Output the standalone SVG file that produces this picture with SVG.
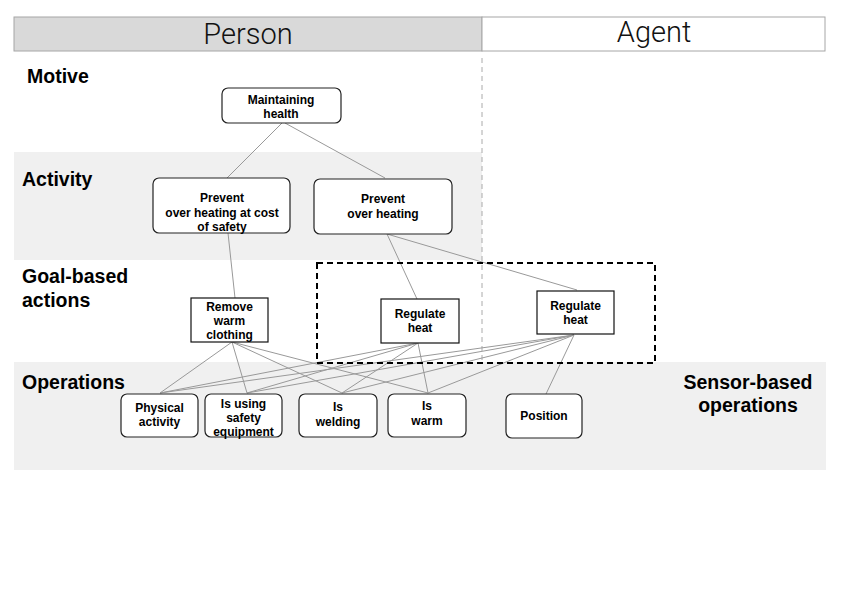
<svg xmlns="http://www.w3.org/2000/svg" width="842" height="595" viewBox="0 0 842 595">
<style>
.hdr{font-family:Roboto,"Liberation Sans",sans-serif;font-weight:300;font-size:29px;fill:#111;text-anchor:middle}
.lbl{font-family:"Liberation Sans",Arial,sans-serif;font-weight:bold;font-size:19.5px;fill:#000}
.nt{font-family:"Liberation Sans",Arial,sans-serif;font-weight:bold;font-size:12px;fill:#000;text-anchor:middle}
.rn{fill:#fff;stroke:#222;stroke-width:1.2}
.sq{fill:#fff;stroke:#111;stroke-width:1.2}
.band{fill:#f0f0f0}
#connectors line{stroke:#999;stroke-width:1;fill:none}
</style>
<rect width="842" height="595" fill="#fff"/>
<g id="background">
<rect class="band" x="14" y="152" width="468" height="108"/>
<rect class="band" x="14" y="362" width="812" height="108"/>
<line x1="482" y1="58" x2="482" y2="362" stroke="#aaa" stroke-width="1" stroke-dasharray="5,4"/>
</g>
<g id="header">
<rect x="14" y="17" width="468" height="34" fill="#d9d9d9" stroke="#a6a6a6" stroke-width="1"/>
<rect x="482" y="17" width="343" height="34" fill="#fff" stroke="#a6a6a6" stroke-width="1"/>
<text class="hdr" x="248" y="44">Person</text>
<text class="hdr" x="654" y="42">Agent</text>
</g>
<g id="row-labels">
<text class="lbl" x="27" y="83">Motive</text>
<text class="lbl" x="22" y="186">Activity</text>
<text class="lbl" x="22" y="283">Goal-based</text>
<text class="lbl" x="22" y="307">actions</text>
<text class="lbl" x="22" y="389">Operations</text>
<text class="lbl" x="748" y="389" text-anchor="middle">Sensor-based</text>
<text class="lbl" x="748" y="412" text-anchor="middle">operations</text>
</g>
<g id="connectors">
<line x1="282" y1="123" x2="227" y2="178"/>
<line x1="285" y1="123" x2="385" y2="178"/>
<line x1="228" y1="233" x2="235" y2="298"/>
<line x1="387" y1="234" x2="417" y2="299"/>
<line x1="387" y1="234" x2="577" y2="290"/>
<line x1="232" y1="342" x2="160" y2="393"/>
<line x1="232" y1="342" x2="247" y2="393"/>
<line x1="232" y1="342" x2="342" y2="393"/>
<line x1="232" y1="342" x2="428" y2="393"/>
<line x1="418" y1="343" x2="160" y2="393"/>
<line x1="418" y1="343" x2="247" y2="393"/>
<line x1="418" y1="343" x2="342" y2="393"/>
<line x1="418" y1="343" x2="428" y2="393"/>
<line x1="574" y1="335" x2="160" y2="393"/>
<line x1="574" y1="335" x2="247" y2="393"/>
<line x1="574" y1="335" x2="342" y2="393"/>
<line x1="574" y1="335" x2="428" y2="393"/>
<line x1="574" y1="335" x2="546" y2="394"/>
</g>
<g id="agent-group">
<rect x="317" y="263" width="338" height="100" fill="none" stroke="#000" stroke-width="2" stroke-dasharray="6,4"/>
</g>
<g id="maintaining-health">
<rect class="rn" x="222" y="88" width="119" height="35" rx="6"/>
<text class="nt" x="281" y="104">Maintaining</text>
<text class="nt" x="281" y="118">health</text>
</g>
<g id="prevent-cost">
<rect class="rn" x="153" y="178" width="137" height="55" rx="6"/>
<text class="nt" x="222" y="202">Prevent</text>
<text class="nt" x="222" y="217">over heating at cost</text>
<text class="nt" x="222" y="231">of safety</text>
</g>
<g id="prevent-overheating">
<rect class="rn" x="314" y="179" width="138" height="55" rx="6"/>
<text class="nt" x="383" y="203">Prevent</text>
<text class="nt" x="383" y="218">over heating</text>
</g>
<g id="remove-clothing">
<rect class="sq" x="191" y="298" width="77" height="44"/>
<text class="nt" x="229.5" y="311">Remove</text>
<text class="nt" x="229.5" y="325">warm</text>
<text class="nt" x="229.5" y="339">clothing</text>
</g>
<g id="regulate-heat-person">
<rect class="sq" x="381" y="299" width="78" height="44"/>
<text class="nt" x="420" y="318">Regulate</text>
<text class="nt" x="420" y="332">heat</text>
</g>
<g id="regulate-heat-agent">
<rect class="sq" x="537" y="291" width="77" height="43"/>
<text class="nt" x="575.5" y="310">Regulate</text>
<text class="nt" x="575.5" y="324">heat</text>
</g>
<g id="physical-activity">
<rect class="rn" x="121" y="394" width="77" height="43" rx="6"/>
<text class="nt" x="159.5" y="412">Physical</text>
<text class="nt" x="159.5" y="426">activity</text>
</g>
<g id="safety-equipment">
<rect class="rn" x="205" y="394" width="77" height="43" rx="6"/>
<text class="nt" x="243.5" y="408">Is using</text>
<text class="nt" x="243.5" y="422">safety</text>
<text class="nt" x="243.5" y="436">equipment</text>
</g>
<g id="is-welding">
<rect class="rn" x="299" y="394" width="78" height="43" rx="6"/>
<text class="nt" x="338" y="411">Is</text>
<text class="nt" x="338" y="426">welding</text>
</g>
<g id="is-warm">
<rect class="rn" x="388" y="394" width="78" height="43" rx="6"/>
<text class="nt" x="427" y="410">Is</text>
<text class="nt" x="427" y="425">warm</text>
</g>
<g id="position">
<rect class="rn" x="506" y="394" width="76" height="44" rx="6"/>
<text class="nt" x="544" y="420">Position</text>
</g>
</svg>
